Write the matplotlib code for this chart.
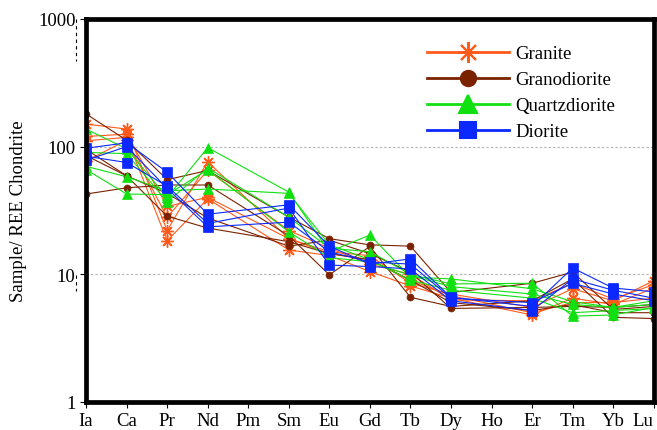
import numpy as np
import matplotlib
matplotlib.use("Agg")
import matplotlib.pyplot as plt
from matplotlib.lines import Line2D

# REE element labels (Pm and Ho have no data, lines run across them)
elements = ["Ia", "Ca", "Pr", "Nd", "Pm", "Sm", "Eu", "Gd", "Tb", "Dy", "Ho", "Er", "Tm", "Yb", "Lu"]
measured = ["Ia", "Ca", "Pr", "Nd", "Sm", "Eu", "Gd", "Tb", "Dy", "Er", "Tm", "Yb", "Lu"]

# chondrite normalised values
granite = [
    [150, 137, 22, 76, 19, 15, 14, 8.5, 7.0, 5.5, 7.7, 6.2, 8.9],
    [111, 118, 18.3, 39, 15.5, 14, 10.5, 8.1, 6.5, 4.8, 6.5, 5.8, 7.8],
    [120, 125, 34, 40, 19, 14.5, 13, 9.0, 6.8, 5.0, 6.0, 6.0, 6.5],
    [77, 112, 28, 65, 22, 16, 12, 10, 6.3, 6.2, 8.5, 6.4, 8.3],
]
granodiorite = [
    [180, 112, 55, 65, 28, 19, 17, 16.6, 7.2, 8.5, 10.4, 5.3, 5.6],
    [42.5, 47.5, 50, 50, 20, 9.9, 16.5, 6.6, 5.6, 6.2, 9.2, 4.6, 4.5],
    [85, 59, 43, 27.6, 16.6, 18.5, 14.5, 10.4, 5.4, 5.5, 5.6, 5.5, 5.8],
    [95, 59, 28.5, 23, 18, 14.5, 13, 9.0, 6.0, 5.2, 5.8, 5.0, 5.0],
]
quartzdiorite = [
    [137, 96, 40, 98, 44, 15, 20.3, 9.5, 9.2, 7.7, 6.1, 5.5, 6.2],
    [90, 88, 37, 68, 28, 16, 15, 10, 8.4, 8.5, 4.7, 4.8, 5.5],
    [70, 58, 45, 46.5, 43, 17, 13, 9.0, 7.5, 6.5, 5.0, 5.2, 5.4],
    [66, 42.5, 42, 66, 21.5, 13.5, 12.5, 9.8, 8.0, 7.0, 5.8, 5.5, 5.8],
]
diorite = [
    [97, 107, 63, 29.5, 35, 16.6, 12, 13.2, 6.6, 5.6, 11.2, 7.8, 7.3],
    [84, 75, 49, 25, 33, 11.8, 11.5, 11, 6.2, 5.2, 9.2, 7.5, 6.5],
    [78, 100, 47, 23.5, 25.6, 15, 12.5, 12, 6.5, 6.0, 8.5, 7.0, 6.2],
]

# name, data, colour, marker, size in plot, size in legend
groups = [
    ("Granite", granite, "#FF5A1A", (8, 2, 0), 9, 15),
    ("Granodiorite", granodiorite, "#7A2200", "o", 5, 11),
    ("Quartzdiorite", quartzdiorite, "#10E010", "^", 7, 13),
    ("Diorite", diorite, "#0A28FF", "s", 7, 11),
]

plt.rcParams["font.family"] = ["Liberation Serif", "DejaVu Serif"]

fig = plt.figure(figsize=(6.57, 4.31), dpi=100)
ax = fig.add_axes([0.131, 0.065, 0.864, 0.889])

xpos = [elements.index(e) for e in measured]
for name, rows, col, mk, ms, lms in groups:
    for row in rows:
        ax.plot(xpos, row, color=col, lw=0.8, marker=mk, ms=ms,
                mec=col, mfc=col, mew=1.0 if mk == (8, 2, 0) else 0.5)

ax.set_yscale("log")
ax.set_ylim(1, 1000)
ax.set_xlim(0, len(elements) - 1)
ax.set_yticks([1, 10, 100, 1000])
ax.set_yticklabels(["1", "10", "100", "1000"])
ax.minorticks_off()
ax.set_xticks(range(len(elements)))
ax.set_xticklabels(elements)
ax.tick_params(axis="both", labelsize=13.5, direction="out", length=4, width=0.8)
ax.tick_params(axis="x", pad=3)
ax.get_xticklabels()[-1].set_horizontalalignment("right")
ax.set_ylabel("Sample/ REE Chondrite", fontsize=13.5, labelpad=8)

for y in [10, 100]:
    ax.axhline(y, color="#b0b0b0", lw=0.8, ls=(0, (2, 2)), zorder=0)

for s in ax.spines.values():
    s.set_linewidth(3.4)

# stray dashed axis fragments left of the frame
fig.add_artist(Line2D([76 / 657, 76 / 657], [1 - 20 / 431, 1 - 62 / 431],
                      color="black", lw=0.8, ls=(0, (3, 3))))
fig.add_artist(Line2D([76 / 657, 76 / 657], [1 - 276 / 431, 1 - 292 / 431],
                      color="black", lw=0.8, ls=(0, (3, 3))))

handles = [Line2D([], [], color=col, lw=2, marker=mk, ms=lms,
                  mec=col, mfc=col, mew=1.5)
           for name, rows, col, mk, ms, lms in groups]
ax.legend(handles, [g[0] for g in groups], loc="upper left",
          bbox_to_anchor=(0.57, 0.975), frameon=False, fontsize=13.5,
          handlelength=4.4, handletextpad=0.35, labelspacing=0.47)

fig.savefig("out.png", dpi=100)
